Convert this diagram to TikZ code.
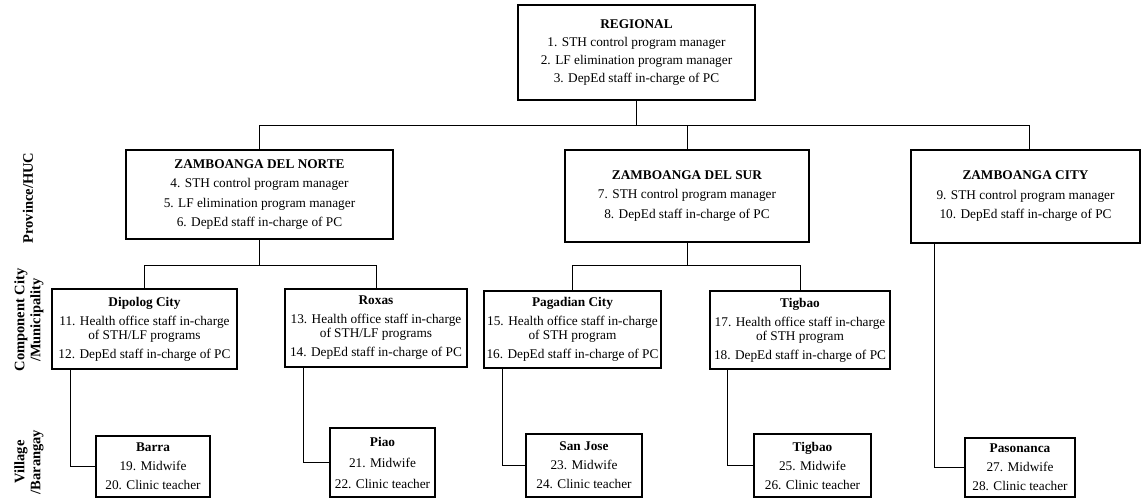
\documentclass[tikz,border=0pt]{standalone}
\usepackage{fontspec}
\setmainfont{Liberation Serif}
\begin{document}
\begin{tikzpicture}[x=1pt,y=-1pt,
  box/.style={draw, line width=1.1pt, rectangle, inner sep=0pt, align=center,
    font=\fontsize{13.3}{14}\selectfont},
  conn/.style={line width=0.9pt},
  lvl/.style={rotate=90, align=center, font=\fontsize{14.5}{16}\selectfont\bfseries}]
\useasboundingbox (0,0) rectangle (1148,500);
% level labels
\node[lvl] (l1) at (28,198) {Province/HUC};
\node[lvl] (l2) at (29,320) {Component City\\/Municipality};
\node[lvl] (l3) at (29,462) {Village\\/Barangay};
% regional
\node[box, minimum width=237pt, minimum height=95pt] (reg) at (636.5,52.5)
 {\textbf{REGIONAL}\\[4pt]1. STH control program manager\\[4pt]2. LF elimination program manager\\[4pt]3. DepEd staff in-charge of PC};
% provinces
\node[box, minimum width=267pt, minimum height=89pt] (zdn) at (259.5,194.5)
 {\textbf{ZAMBOANGA DEL NORTE}\\[5.5pt]4. STH control program manager\\[5.5pt]5. LF elimination program manager\\[5.5pt]6. DepEd staff in-charge of PC};
\node[box, minimum width=244pt, minimum height=92pt] (zds) at (687,196)
 {\textbf{ZAMBOANGA DEL SUR}\\[5.5pt]7. STH control program manager\\[5.5pt]8. DepEd staff in-charge of PC};
\node[box, minimum width=229pt, minimum height=93pt] (zc) at (1025.5,196.5)
 {\textbf{ZAMBOANGA CITY}\\[5.5pt]9. STH control program manager\\[5.5pt]10. DepEd staff in-charge of PC};
% municipalities
\node[box, minimum width=185pt, minimum height=80pt] (dip) at (144.5,329)
 {\textbf{Dipolog City}\\[5pt]11. Health office staff in-charge\\of STH/LF programs\\[5pt]12. DepEd staff in-charge of PC};
\node[box, minimum width=182pt, minimum height=78pt] (rox) at (376,328)
 {\textbf{Roxas}\\[5pt]13. Health office staff in-charge\\of STH/LF programs\\[5pt]14. DepEd staff in-charge of PC};
\node[box, minimum width=177pt, minimum height=77pt] (pag) at (572.5,329.5)
 {\textbf{Pagadian City}\\[5pt]15. Health office staff in-charge\\of STH program\\[5pt]16. DepEd staff in-charge of PC};
\node[box, minimum width=180pt, minimum height=78pt] (tig) at (800,330)
 {\textbf{Tigbao}\\[5pt]17. Health office staff in-charge\\of STH program\\[5pt]18. DepEd staff in-charge of PC};
% villages
\node[box, minimum width=114pt, minimum height=61pt] (bar) at (153,466.5)
 {\textbf{Barra}\\[5pt]19. Midwife\\[5pt]20. Clinic teacher};
\node[box, minimum width=105pt, minimum height=69pt] (pia) at (382.5,462.5)
 {\textbf{Piao}\\[7pt]21. Midwife\\[7pt]22. Clinic teacher};
\node[box, minimum width=116pt, minimum height=63pt] (sjo) at (584,465.5)
 {\textbf{San Jose}\\[5pt]23. Midwife\\[5pt]24. Clinic teacher};
\node[box, minimum width=117pt, minimum height=63pt] (tgv) at (812.5,465.5)
 {\textbf{Tigbao}\\[5pt]25. Midwife\\[5pt]26. Clinic teacher};
\node[box, minimum width=110pt, minimum height=59pt] (pas) at (1020,467.5)
 {\textbf{Pasonanca}\\[5pt]27. Midwife\\[5pt]28. Clinic teacher};
% junction coordinates
\coordinate (j1) at (636.5,125);
\coordinate (j2) at (259.5,265);
\coordinate (j3) at (687,265);
\coordinate (xzc) at (1029,0);
\coordinate (xdip) at (70,0);
\coordinate (xrox) at (303,0);
\coordinate (xpag) at (502,0);
\coordinate (xtig) at (727,0);
\coordinate (xzc2) at (934,0);
% connectors
\draw[conn] (reg.south) -- (j1);
\draw[conn] (zdn.north) -- (zdn.north |- j1) -- (xzc |- j1) -- (xzc |- zc.north);
\draw[conn] (zds.north) -- (zds.north |- j1);
\draw[conn] (zdn.south) -- (j2);
\draw[conn] (dip.north) -- (dip.north |- j2) -- (rox.north |- j2) -- (rox.north);
\draw[conn] (zds.south) -- (j3);
\draw[conn] (pag.north) -- (pag.north |- j3) -- (tig.north |- j3) -- (tig.north);
\draw[conn] (xdip |- dip.south) -- (xdip |- bar.west) -- (bar.west);
\draw[conn] (xrox |- rox.south) -- (xrox |- pia.west) -- (pia.west);
\draw[conn] (xpag |- pag.south) -- (xpag |- sjo.west) -- (sjo.west);
\draw[conn] (xtig |- tig.south) -- (xtig |- tgv.west) -- (tgv.west);
\draw[conn] (xzc2 |- zc.south) -- (xzc2 |- pas.west) -- (pas.west);
\end{tikzpicture}
\end{document}
